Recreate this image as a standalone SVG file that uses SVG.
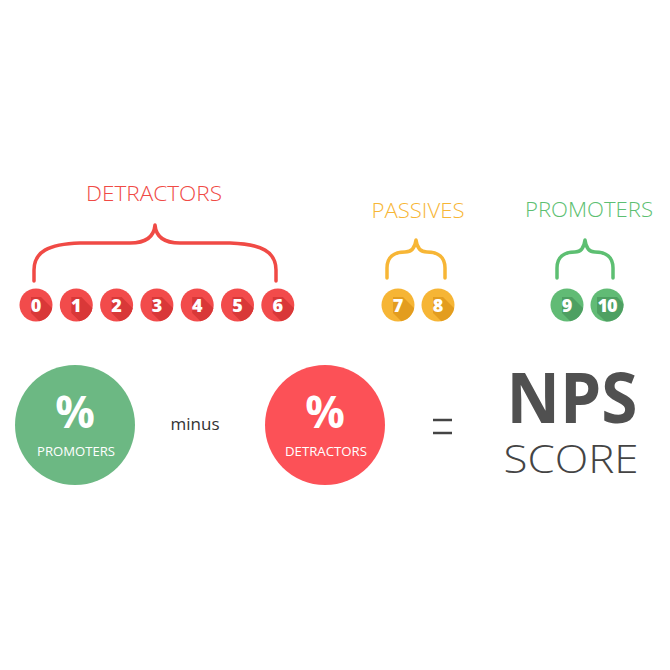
<svg xmlns="http://www.w3.org/2000/svg" width="670" height="670" viewBox="0 0 670 670">
<style>
.lbl{font-family:"Open Sans","Liberation Sans",sans-serif;font-weight:300;font-size:21px;text-anchor:middle}
.num{font-family:"Open Sans","Liberation Sans",sans-serif;font-weight:800;font-size:18px;fill:#fff;text-anchor:middle}
.brace{fill:none;stroke-width:3.5;stroke-linecap:round;stroke-linejoin:round}
.red .c{fill:#f24b4b}.red .s{fill:#d93838}
.org .c{fill:#f6b535}.org .s{fill:#e39d1f}
.grn .c{fill:#61bb75}.grn .s{fill:#4ea062}
.pct{font-family:"Open Sans","Liberation Sans",sans-serif;font-weight:700;font-size:44px;fill:#fff;text-anchor:middle}
.cap{font-family:"Open Sans","Liberation Sans",sans-serif;font-weight:400;font-size:12.5px;fill:#fff;text-anchor:middle}
</style>
<defs>
<clipPath id="cc"><circle cx="0" cy="0" r="16.5"/></clipPath>
<polygon id="sh1" points="-5,-8 5,-8 35,22 35,38 25,38 -5,8"/>
<polygon id="sh2" points="-10,-8 10,-8 40,22 40,38 20,38 -10,8"/>
</defs>
<rect width="670" height="670" fill="#fff"/>

<g id="labels">
<text class="lbl" x="154" y="201" fill="#f04a45" textLength="136" lengthAdjust="spacingAndGlyphs">DETRACTORS</text>
<text class="lbl" x="418" y="218" fill="#f7b636" textLength="93" lengthAdjust="spacingAndGlyphs">PASSIVES</text>
<text class="lbl" x="589" y="217" fill="#5dbf72" textLength="128" lengthAdjust="spacingAndGlyphs">PROMOTERS</text>
</g>

<g id="connectors">
<path class="brace" stroke="#f04a45" d="M34,281 V270 C34,252 48,244 80,243 H130 C146,243 154,237 155,225 C156,237 164,243 180,243 H230 C262,244 276,252 276,270 V281"/>
<path class="brace" stroke="#f7b636" d="M387,278 V268 C387,257 394,252 405,252 C412,252 415,248 416,240 C417,248 420,252 427,252 C438,252 445,257 445,268 V278"/>
<path class="brace" stroke="#5dbf72" d="M557,278 V268 C557,257 564,252 575,252 C581,252 584,248 585,240 C586,248 589,252 595,252 C606,252 613,257 613,268 V278"/>
</g>

<g id="n0" class="red" transform="translate(36,305)"><circle class="c" r="16.5"/><use class="s" href="#sh1" clip-path="url(#cc)"/><text class="num" y="6.5">0</text></g>
<g id="n1" class="red" transform="translate(76.3,305)"><circle class="c" r="16.5"/><use class="s" href="#sh1" clip-path="url(#cc)"/><text class="num" y="6.5">1</text></g>
<g id="n2" class="red" transform="translate(116.6,305)"><circle class="c" r="16.5"/><use class="s" href="#sh1" clip-path="url(#cc)"/><text class="num" y="6.5">2</text></g>
<g id="n3" class="red" transform="translate(156.9,305)"><circle class="c" r="16.5"/><use class="s" href="#sh1" clip-path="url(#cc)"/><text class="num" y="6.5">3</text></g>
<g id="n4" class="red" transform="translate(197.2,305)"><circle class="c" r="16.5"/><use class="s" href="#sh1" clip-path="url(#cc)"/><text class="num" y="6.5">4</text></g>
<g id="n5" class="red" transform="translate(237.5,305)"><circle class="c" r="16.5"/><use class="s" href="#sh1" clip-path="url(#cc)"/><text class="num" y="6.5">5</text></g>
<g id="n6" class="red" transform="translate(277.8,305)"><circle class="c" r="16.5"/><use class="s" href="#sh1" clip-path="url(#cc)"/><text class="num" y="6.5">6</text></g>
<g id="n7" class="org" transform="translate(398,305)"><circle class="c" r="16.5"/><use class="s" href="#sh1" clip-path="url(#cc)"/><text class="num" y="6.5">7</text></g>
<g id="n8" class="org" transform="translate(438,305)"><circle class="c" r="16.5"/><use class="s" href="#sh1" clip-path="url(#cc)"/><text class="num" y="6.5">8</text></g>
<g id="n9" class="grn" transform="translate(567,305)"><circle class="c" r="16.5"/><use class="s" href="#sh1" clip-path="url(#cc)"/><text class="num" y="6.5">9</text></g>
<g id="n10" class="grn" transform="translate(607,305)"><circle class="c" r="16.5"/><use class="s" href="#sh2" clip-path="url(#cc)"/><text class="num" y="6.5" letter-spacing="-1">10</text></g>

<g id="promoters-pct">
<circle cx="75" cy="425" r="60" fill="#6cb883"/>
<text class="pct" x="75" y="428">%</text>
<text class="cap" x="76" y="456" textLength="78" lengthAdjust="spacingAndGlyphs">PROMOTERS</text>
</g>
<g id="minus">
<text x="195" y="430" font-family="'Open Sans','Liberation Sans',sans-serif" font-size="17" fill="#333" text-anchor="middle">minus</text>
</g>
<g id="detractors-pct">
<circle cx="325" cy="425" r="60" fill="#fc5157"/>
<text class="pct" x="325" y="428">%</text>
<text class="cap" x="326" y="456" textLength="82" lengthAdjust="spacingAndGlyphs">DETRACTORS</text>
</g>
<g id="equals">
<line x1="433" y1="420" x2="452" y2="420" stroke="#444" stroke-width="2.5"/>
<line x1="433" y1="433" x2="452" y2="433" stroke="#444" stroke-width="2.5"/>
</g>
<g id="nps">
<text x="572" y="423" font-family="'Open Sans','Liberation Sans',sans-serif" font-weight="700" font-size="70" fill="#505050" text-anchor="middle" textLength="131" lengthAdjust="spacingAndGlyphs">NPS</text>
<text x="571" y="473" font-family="'Open Sans','Liberation Sans',sans-serif" font-weight="300" font-size="39" fill="#444" text-anchor="middle" textLength="135" lengthAdjust="spacingAndGlyphs">SCORE</text>
</g>
</svg>
